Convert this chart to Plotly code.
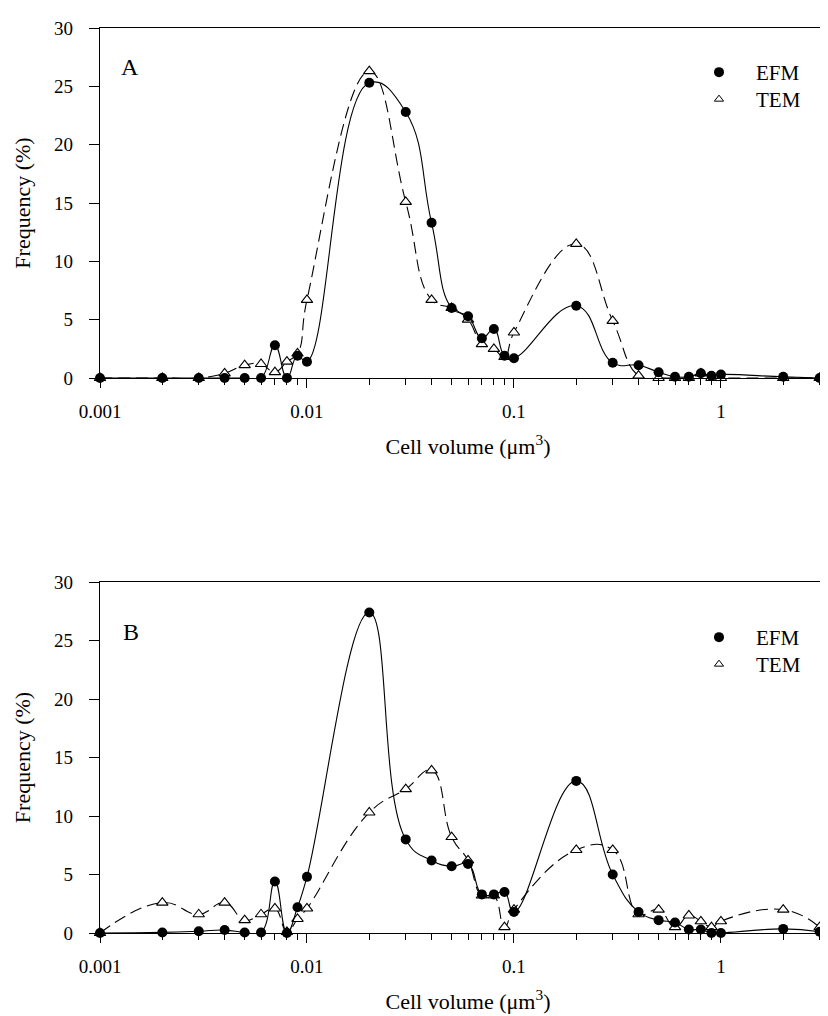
import plotly.graph_objects as go

# Bin centres (cell volume, µm^3)
volume = [0.001, 0.002, 0.003, 0.004, 0.005, 0.006, 0.007, 0.008, 0.009,
          0.01, 0.02, 0.03, 0.04, 0.05, 0.06, 0.07, 0.08, 0.09,
          0.1, 0.2, 0.3, 0.4, 0.5, 0.6, 0.7, 0.8, 0.9, 1, 2, 3]

# Panel A frequencies (%)
efm_a = [0, 0, 0, 0, 0, 0, 2.8, 0, 1.9,
         1.4, 25.3, 22.8, 13.3, 6.0, 5.3, 3.4, 4.2, 1.9,
         1.7, 6.2, 1.3, 1.1, 0.5, 0.1, 0.1, 0.4, 0.2, 0.3, 0.1, 0]
tem_a = [0, 0, 0, 0.4, 1.1, 1.2, 0.5, 1.4, 2.1,
         6.7, 26.3, 15.1, 6.7, 6.0, 5.0, 2.9, 2.5, 1.8,
         3.9, 11.5, 4.9, 0.2, 0, 0, 0, 0.4, 0, 0, 0, 0]

# Panel B frequencies (%)
efm_b = [0, 0.05, 0.15, 0.25, 0.05, 0.05, 4.4, 0, 2.2,
         4.8, 27.4, 8.0, 6.2, 5.7, 5.9, 3.3, 3.3, 3.5,
         1.8, 13.0, 5.0, 1.8, 1.1, 0.9, 0.3, 0.3, 0, 0, 0.35, 0.1]
tem_b = [0, 2.6, 1.6, 2.6, 1.1, 1.6, 2.1, 0.1, 1.2,
         2.1, 10.3, 12.3, 13.9, 8.2, 6.2, 3.2, 3.2, 0.5,
         2.0, 7.1, 7.1, 1.6, 2.0, 0.5, 1.5, 1.0, 0.5, 1.0, 2.0, 0.5]

series_names = ["EFM", "TEM"]
panel_labels = ["A", "B"]
x_tick_vals = [0.001, 0.01, 0.1, 1]
x_tick_text = ["0.001", "0.01", "0.1", "1"]
y_tick_vals = [0, 5, 10, 15, 20, 25, 30]

FONT = "Liberation Serif"
W, H = 828, 1016
L = 92
SMOOTH = 1.3

fig = go.Figure()

efm_marker = dict(symbol="circle", size=10, color="black", line=dict(color="black", width=0))
tem_marker = dict(symbol="triangle-up", size=10, color="white", line=dict(color="black", width=1.1))
tem_key_marker = dict(symbol="triangle-up", size=8, color="white", line=dict(color="black", width=1))

panels = [(efm_a, tem_a, "x", "y", ("legend", "legend3")),
          (efm_b, tem_b, "x2", "y2", ("legend2", "legend4"))]
for efm, tem, xa, ya, lgs in panels:
    fig.add_trace(go.Scatter(x=volume, y=tem, mode="lines+markers", xaxis=xa, yaxis=ya,
                             line=dict(color="black", width=1.1, dash="12px,6px", shape="spline", smoothing=SMOOTH),
                             marker=tem_marker, showlegend=False, cliponaxis=False))
    fig.add_trace(go.Scatter(x=volume, y=efm, mode="lines+markers", xaxis=xa, yaxis=ya,
                             line=dict(color="black", width=1.1, shape="spline", smoothing=SMOOTH),
                             marker=efm_marker, showlegend=False, cliponaxis=False))
    # legend-only entries (markers only, as in the original key)
    fig.add_trace(go.Scatter(x=[None], y=[None], mode="markers", xaxis=xa, yaxis=ya,
                             marker=efm_marker, name=series_names[0], legend=lgs[0]))
    fig.add_trace(go.Scatter(x=[None], y=[None], mode="markers", xaxis=xa, yaxis=ya,
                             marker=tem_key_marker, name=series_names[1], legend=lgs[1]))

minor_vals = [m * 10 ** e for e in (-3, -2, -1, 0) for m in range(2, 10)]


def ydom(top_px, bot_px):
    return [1 - bot_px / H, 1 - top_px / H]


def px_x(px):
    return (px - L) / (W - L)


xcommon = dict(type="log", range=[-3, 0.556], tickvals=x_tick_vals, ticktext=x_tick_text,
               ticks="outside", ticklen=9, tickwidth=1.2, tickcolor="black",
               showline=True, linecolor="black", linewidth=1.3, mirror=True,
               showgrid=False, zeroline=False, automargin=False, ticklabelstandoff=7,
               minor=dict(tickvals=minor_vals, ticks="outside", ticklen=6, tickwidth=1, tickcolor="black",
                          showgrid=False),
               tickfont=dict(family=FONT, size=19, color="black"),
               title=dict(text="Cell volume (μm<sup>3</sup>)", font=dict(family=FONT, size=22, color="black"),
                          standoff=17))
ycommon = dict(range=[0, 30], tickvals=y_tick_vals, ticks="outside", ticklen=10, tickwidth=1.2,
               tickcolor="black", showline=True, linecolor="black", linewidth=1.3, mirror=False,
               showgrid=False, zeroline=False, automargin=False, ticklabelstandoff=12,
               tickfont=dict(family=FONT, size=19, color="black"),
               title=dict(text="Frequency (%)", font=dict(family=FONT, size=22, color="black"), standoff=17))

legcommon = dict(font=dict(family=FONT, size=21, color="black"), bgcolor="rgba(0,0,0,0)",
                 borderwidth=0, itemwidth=64, tracegroupgap=0, xanchor="left", yanchor="top",
                 xref="paper", yref="paper")

LEG_X = px_x(674)
fig.update_layout(
    width=W, height=H,
    margin=dict(l=L, r=0, t=0, b=0, autoexpand=False),
    paper_bgcolor="white", plot_bgcolor="white",
    font=dict(family=FONT, color="black"),
    xaxis=dict(domain=[0, 1], anchor="y", **xcommon),
    yaxis=dict(domain=ydom(20, 370), anchor="x", **ycommon),
    xaxis2=dict(domain=[0, 1], anchor="y2", **xcommon),
    yaxis2=dict(domain=ydom(574, 925), anchor="x2", **ycommon),
    legend=dict(x=LEG_X, y=1 - 44 / H, **legcommon),
    legend3=dict(x=LEG_X, y=1 - 71 / H, **legcommon),
    legend2=dict(x=LEG_X, y=1 - 609 / H, **legcommon),
    legend4=dict(x=LEG_X, y=1 - 636 / H, **legcommon),
    annotations=[
        dict(text=panel_labels[0], xref="paper", yref="paper", x=px_x(122), y=1 - 59 / H,
             showarrow=False, font=dict(family=FONT, size=24, color="black"), xanchor="center", yanchor="middle"),
        dict(text=panel_labels[1], xref="paper", yref="paper", x=px_x(123), y=1 - 624 / H,
             showarrow=False, font=dict(family=FONT, size=24, color="black"), xanchor="center", yanchor="middle"),
    ],
)

fig.write_html("out.html")
